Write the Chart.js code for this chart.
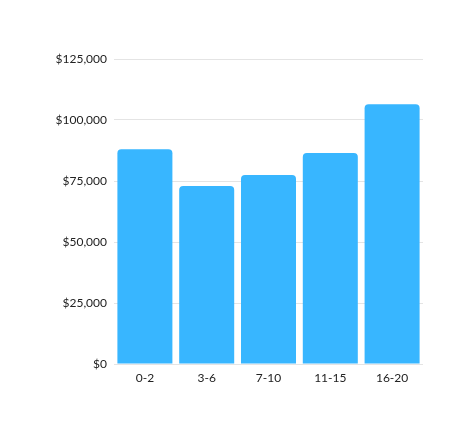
<!DOCTYPE html>
<html>
<head>
<meta charset="utf-8">
<script src="https://cdn.jsdelivr.net/npm/chart.js@4"></script>
<style>
  html, body { margin: 0; padding: 0; background: #fff; }
  #wrap { width: 474px; height: 436px; }
</style>
</head>
<body>
<div id="wrap"><canvas id="chart"></canvas></div>
<script>
const categories = ['0-2', '3-6', '7-10', '11-15', '16-20'];
const salaries = [88000, 73000, 77500, 86500, 106500];
const yTicks = [0, 25000, 50000, 75000, 100000, 125000];

const money = v => '$' + v.toLocaleString('en-US');

new Chart(document.getElementById('chart'), {
  type: 'bar',
  data: {
    labels: categories,
    datasets: [{
      data: salaries,
      backgroundColor: '#38b6ff',
      borderRadius: { topLeft: 4, topRight: 4 },
      borderSkipped: 'bottom',
      barPercentage: 0.89,
      categoryPercentage: 1,
    }],
  },
  options: {
    responsive: true, maintainAspectRatio: false, animation: false,
    devicePixelRatio: 1,
    layout: { padding: { top: 59, right: 51, left: 0, bottom: 0 } },
    plugins: { legend: { display: false }, tooltip: { enabled: false } },
    scales: {
      x: {
        grid: { display: false, drawTicks: false },
        border: { display: false },
        ticks: { color: '#222', padding: 7, font: { family: 'Lato', size: 12 } },
        afterFit: s => { s.height = 72; },
      },
      y: {
        min: 0, max: 125000,
        grid: { color: '#e4e4e4', drawTicks: false },
        border: { display: false },
        afterBuildTicks: s => { s.ticks = yTicks.map(v => ({ value: v })); },
        ticks: { color: '#222', padding: 7, font: { family: 'Lato', size: 12 }, callback: v => money(v) },
        afterFit: s => { s.width = 114; },
      },
    },
  },
});
</script>
</body>
</html>
